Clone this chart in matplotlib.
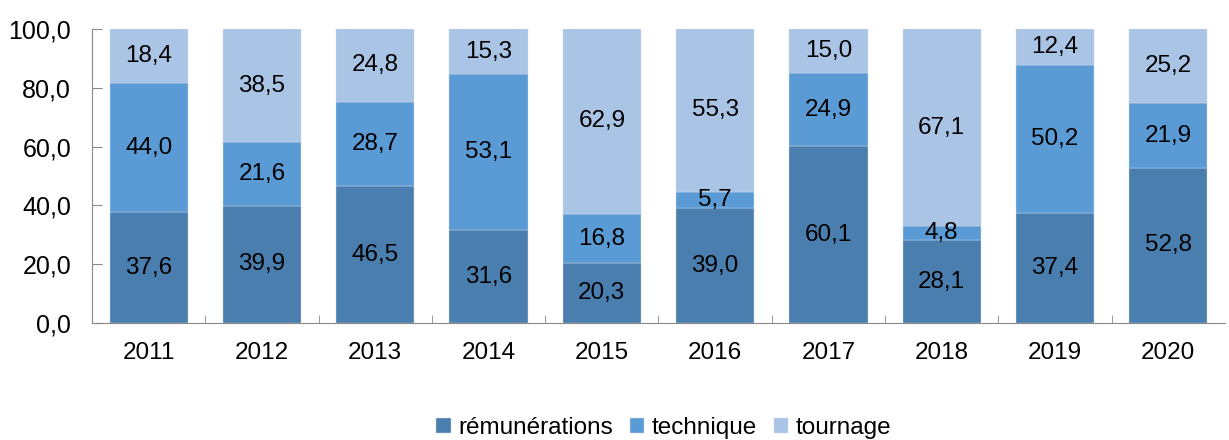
import matplotlib
matplotlib.use("Agg")
import matplotlib.pyplot as plt
import numpy as np

years = ["2011", "2012", "2013", "2014", "2015", "2016", "2017", "2018", "2019", "2020"]
remunerations = [37.6, 39.9, 46.5, 31.6, 20.3, 39.0, 60.1, 28.1, 37.4, 52.8]
technique = [44.0, 21.6, 28.7, 53.1, 16.8, 5.7, 24.9, 4.8, 50.2, 21.9]
tournage = [18.4, 38.5, 24.8, 15.3, 62.9, 55.3, 15.0, 67.1, 12.4, 25.2]
series_names = ["rémunérations", "technique", "tournage"]
colors = ["#4A7EAF", "#5B9BD5", "#AAC4E6"]

plt.rcParams['font.family'] = ['Liberation Sans', 'DejaVu Sans']

fig = plt.figure(figsize=(12.29, 4.40), dpi=100)
ax = fig.add_axes([0.0749, 0.266, 0.9218, 0.668])

x = np.arange(len(years))
w = 0.69
bottom = np.zeros(len(years))
for vals, name, c in zip([remunerations, technique, tournage], series_names, colors):
    vals = np.array(vals)
    ax.bar(x, vals, w, bottom=bottom, color=c, label=name, edgecolor="#cfdcec", linewidth=0.3)
    for xi, b, v in zip(x, bottom, vals):
        ax.text(xi, b + v / 2, f"{v:.1f}".replace(".", ","), ha="center", va="center", fontsize=17.5, color="black")
    bottom += vals

ax.set_xlim(-0.5, len(years) - 0.5)
ax.set_ylim(0, 100)
ax.set_yticks(np.arange(0, 101, 20))
ax.set_yticklabels([f"{v:.1f}".replace(".", ",") for v in np.arange(0, 101, 20)], fontsize=18)
ax.set_xticks(x)
ax.set_xticklabels(years, fontsize=17.5)
ax.set_xticks(np.arange(0.5, len(years) - 1, 1), minor=True)
ax.tick_params(axis="x", which="major", length=0, pad=14)
ax.tick_params(axis="x", which="minor", length=6, direction="in", color="#888888")
ax.tick_params(axis="y", length=7, direction="in", color="#888888", pad=15)
ax.spines["top"].set_visible(False)
ax.spines["right"].set_visible(False)
ax.spines["left"].set_color("#888888")
ax.spines["bottom"].set_color("#888888")

handles, labels = ax.get_legend_handles_labels()
fig.legend(handles, labels, loc="center", bbox_to_anchor=(0.54, 0.027), ncol=3, frameon=False,
           fontsize=17.5, handlelength=0.6, handleheight=0.6, handletextpad=0.3, columnspacing=0.7)

fig.savefig("out.png", dpi=100)
